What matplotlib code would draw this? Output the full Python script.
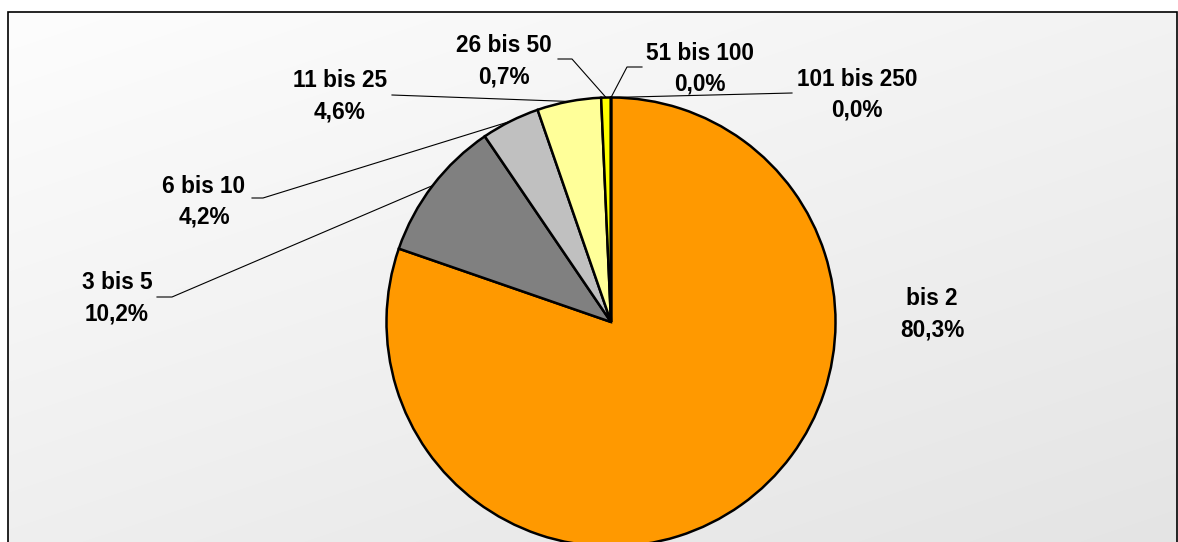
import numpy as np
import matplotlib.pyplot as plt

# Share of businesses by size class (employees)
categories = ["bis 2", "3 bis 5", "6 bis 10", "11 bis 25", "26 bis 50", "51 bis 100", "101 bis 250"]
shares = [80.3, 10.2, 4.2, 4.6, 0.7, 0.0, 0.0]
slice_colors = ["#ff9900", "#808080", "#c0c0c0", "#ffff99", "#ffff00", "#ffff00", "#ffcc00"]

W, H = 1178, 542
FONT = ["Liberation Sans", "DejaVu Sans"]
FS = 16.3  # points

fig = plt.figure(figsize=(W / 100, H / 100), dpi=100)
fig.patch.set_facecolor("white")
ax = fig.add_axes([0, 0, 1, 1])


def Y(y):
    """Convert a top-down pixel row to the axes' bottom-up coordinate."""
    return H - y


# Chart-area frame with a soft diagonal grey gradient
left, right, top, bottom = 8, 1177, 12, 546
xs = np.linspace(left, right, 400)
ys = np.linspace(top, bottom, 200)
gx, gy = np.meshgrid(xs, ys)
shade = (253 - 0.009 * (gx - left) - 0.027 * (gy - top)) / 255.0
rgb = np.dstack([shade, shade, shade])
ax.imshow(rgb, extent=(left, right, Y(bottom), Y(top)), origin="upper",
          aspect="auto", zorder=0, interpolation="bilinear")
ax.plot([left, left, right, right], [Y(bottom), Y(top), Y(top), Y(bottom)],
        color="black", lw=1.2, zorder=1, solid_joinstyle="miter")

# Pie
cx, cy, R = 611, 322, 224.5
wedges, _ = ax.pie(shares, colors=slice_colors, startangle=90, counterclock=False,
                   center=(cx, Y(cy)), radius=R,
                   wedgeprops=dict(edgecolor="black", linewidth=1.8, joinstyle="miter"))
for w in wedges:
    w.set_zorder(2)

# Label layout: centre x and cap-centre y of the first line, plus leader knees
label_pos = [(932, 297), (117, 281), (204, 184.5), (340, 79), (504, 44), (700, 51.5), (857, 77.5)]
leader_knees = [None,
                [(157, 297), (172, 297)],
                [(252, 198), (263, 198)],
                [(392, 95)],
                [(558, 59), (572, 59)],
                [(642, 67), (627, 67)],
                [(792, 93)]]
line_gap = 31
cap_half = 0.358 * FS * 100 / 72

for name, val, w, (lx, ly), knees in zip(categories, shares, wedges, label_pos, leader_knees):
    pct = f"{val:.1f}%".replace(".", ",")
    ax.text(lx, Y(ly + cap_half), name, ha="center", va="baseline",
            fontsize=FS, fontweight="bold", family=FONT, zorder=4)
    ax.text(lx, Y(ly + line_gap + cap_half), pct, ha="center", va="baseline",
            fontsize=FS, fontweight="bold", family=FONT, zorder=4)
    if knees is not None:
        mid = np.deg2rad((w.theta1 + w.theta2) / 2)
        ax_x = cx + R * np.cos(mid)
        ax_y = Y(cy) + R * np.sin(mid)
        px = [k[0] for k in knees] + [ax_x]
        py = [Y(k[1]) for k in knees] + [ax_y]
        ax.plot(px, py, color="black", lw=0.8, zorder=3)

ax.set_xlim(0, W)
ax.set_ylim(0, H)
ax.set_aspect("auto")
ax.axis("off")

fig.savefig("out.png", dpi=100)
